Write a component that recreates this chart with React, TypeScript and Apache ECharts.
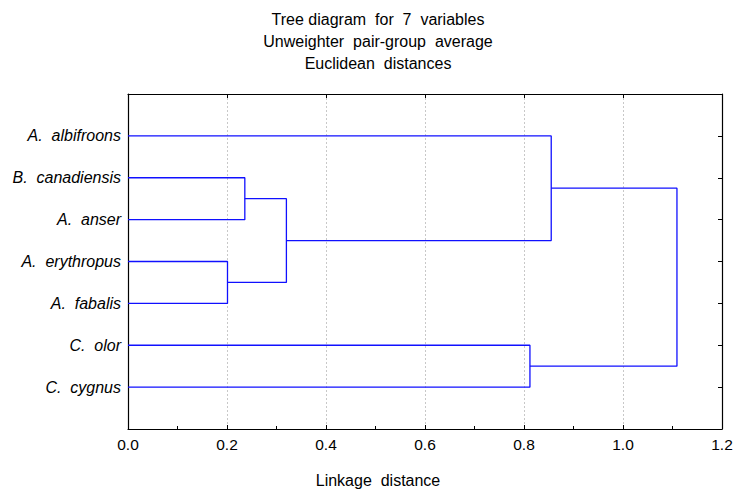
import React, { useEffect, useRef } from "react";
import * as echarts from "echarts";

const titleLines = ["Tree diagram  for  7  variables", "Unweighter  pair-group  average", "Euclidean  distances"];
const xAxisTitle = "Linkage  distance";
const leaves = ["A.  albifroons", "B.  canadiensis", "A.  anser", "A.  erythropus", "A.  fabalis", "C.  olor", "C.  cygnus"];
// merges: node ids 0..6 are leaves, 7.. are clusters in order
const mergeLeft = [3, 1, 8, 5, 0, 11];
const mergeRight = [4, 2, 7, 6, 9, 10];
const mergeHeight = [0.201, 0.236, 0.32, 0.812, 0.855, 1.109];
const xTicks = [0, 0.2, 0.4, 0.6, 0.8, 1.0, 1.2];

const FONT = "'Liberation Sans', Arial, Helvetica, sans-serif";
const BLUE = "#1010ff";

export default function App() {
  const ref = useRef<HTMLDivElement>(null);
  useEffect(() => {
    if (!ref.current) return;
    const chart = echarts.init(ref.current, undefined, { renderer: "svg" });
    const nodeX: number[] = leaves.map(() => 0);
    const nodeY: number[] = leaves.map((_, i) => i + 1);
    const series: any[] = [];
    mergeLeft.forEach((l, k) => {
      const r = mergeRight[k];
      const h = mergeHeight[k];
      series.push({
        type: "line",
        symbol: "none",
        silent: true,
        lineStyle: { color: BLUE, width: 1.3 },
        data: [
          [nodeX[l], nodeY[l]],
          [h, nodeY[l]],
          [h, nodeY[r]],
          [nodeX[r], nodeY[r]],
        ],
      });
      nodeX.push(h);
      nodeY.push((nodeY[l] + nodeY[r]) / 2);
    });
    const xMin = xTicks[0];
    const xMax = xTicks[xTicks.length - 1];
    const axisLine = { show: true, onZero: false, lineStyle: { color: "#000", width: 1.2 } };
    chart.setOption({
      animation: false,
      backgroundColor: "#ffffff",
      textStyle: { fontFamily: FONT },
      grid: { left: 128, top: 94, right: 23, bottom: 64, containLabel: false },
      xAxis: [
        {
          type: "value",
          position: "bottom",
          min: xMin,
          max: xMax,
          interval: 0.2,
          axisLine,
          axisTick: { show: true, inside: true, length: 4, lineStyle: { color: "#000" } },
          minorTick: { show: true, splitNumber: 2, length: 3, lineStyle: { color: "#000" } },
          axisLabel: {
            color: "#000",
            fontSize: 15.5,
            margin: 7,
            fontFamily: FONT,
            formatter: (v: number) => v.toFixed(1),
          },
          splitLine: { show: true, lineStyle: { color: "#c8c8c8", type: [2, 2], width: 1 } },
        },
        {
          type: "value",
          position: "top",
          min: xMin,
          max: xMax,
          interval: 0.2,
          axisLine,
          axisTick: { show: true, inside: true, length: 4, lineStyle: { color: "#000" } },
          axisLabel: { show: false },
          splitLine: { show: false },
        },
      ],
      yAxis: [
        {
          type: "value",
          position: "left",
          min: 0,
          max: leaves.length + 1,
          interval: 1,
          inverse: true,
          axisLine,
          axisTick: { show: false },
          axisLabel: {
            color: "#000",
            fontSize: 16,
            fontStyle: "italic",
            margin: 7,
            fontFamily: FONT,
            formatter: (v: number) => (v >= 1 && v <= leaves.length ? leaves[v - 1] : ""),
          },
          splitLine: { show: false },
        },
        {
          type: "value",
          position: "right",
          min: 0,
          max: leaves.length + 1,
          interval: 1,
          inverse: true,
          axisLine,
          axisTick: { show: true, inside: true, length: 4, lineStyle: { color: "#000" } },
          axisLabel: { show: false },
          splitLine: { show: false },
        },
      ],
      graphic: [
        ...titleLines.map((t, i) => ({
          type: "text",
          x: 378,
          y: 19 + i * 22,
          style: {
            text: t,
            align: "center",
            verticalAlign: "middle",
            font: `16px ${FONT}`,
            fill: "#000",
          },
        })),
        {
          type: "text",
          x: 378,
          y: 480,
          style: {
            text: xAxisTitle,
            align: "center",
            verticalAlign: "middle",
            font: `16px ${FONT}`,
            fill: "#000",
          },
        },
      ],
      series,
    });
    return () => chart.dispose();
  }, []);
  return (
    <div
      ref={ref}
      style={{ position: "absolute", left: 0, top: 0, width: 745, height: 493 }}
    />
  );
}
